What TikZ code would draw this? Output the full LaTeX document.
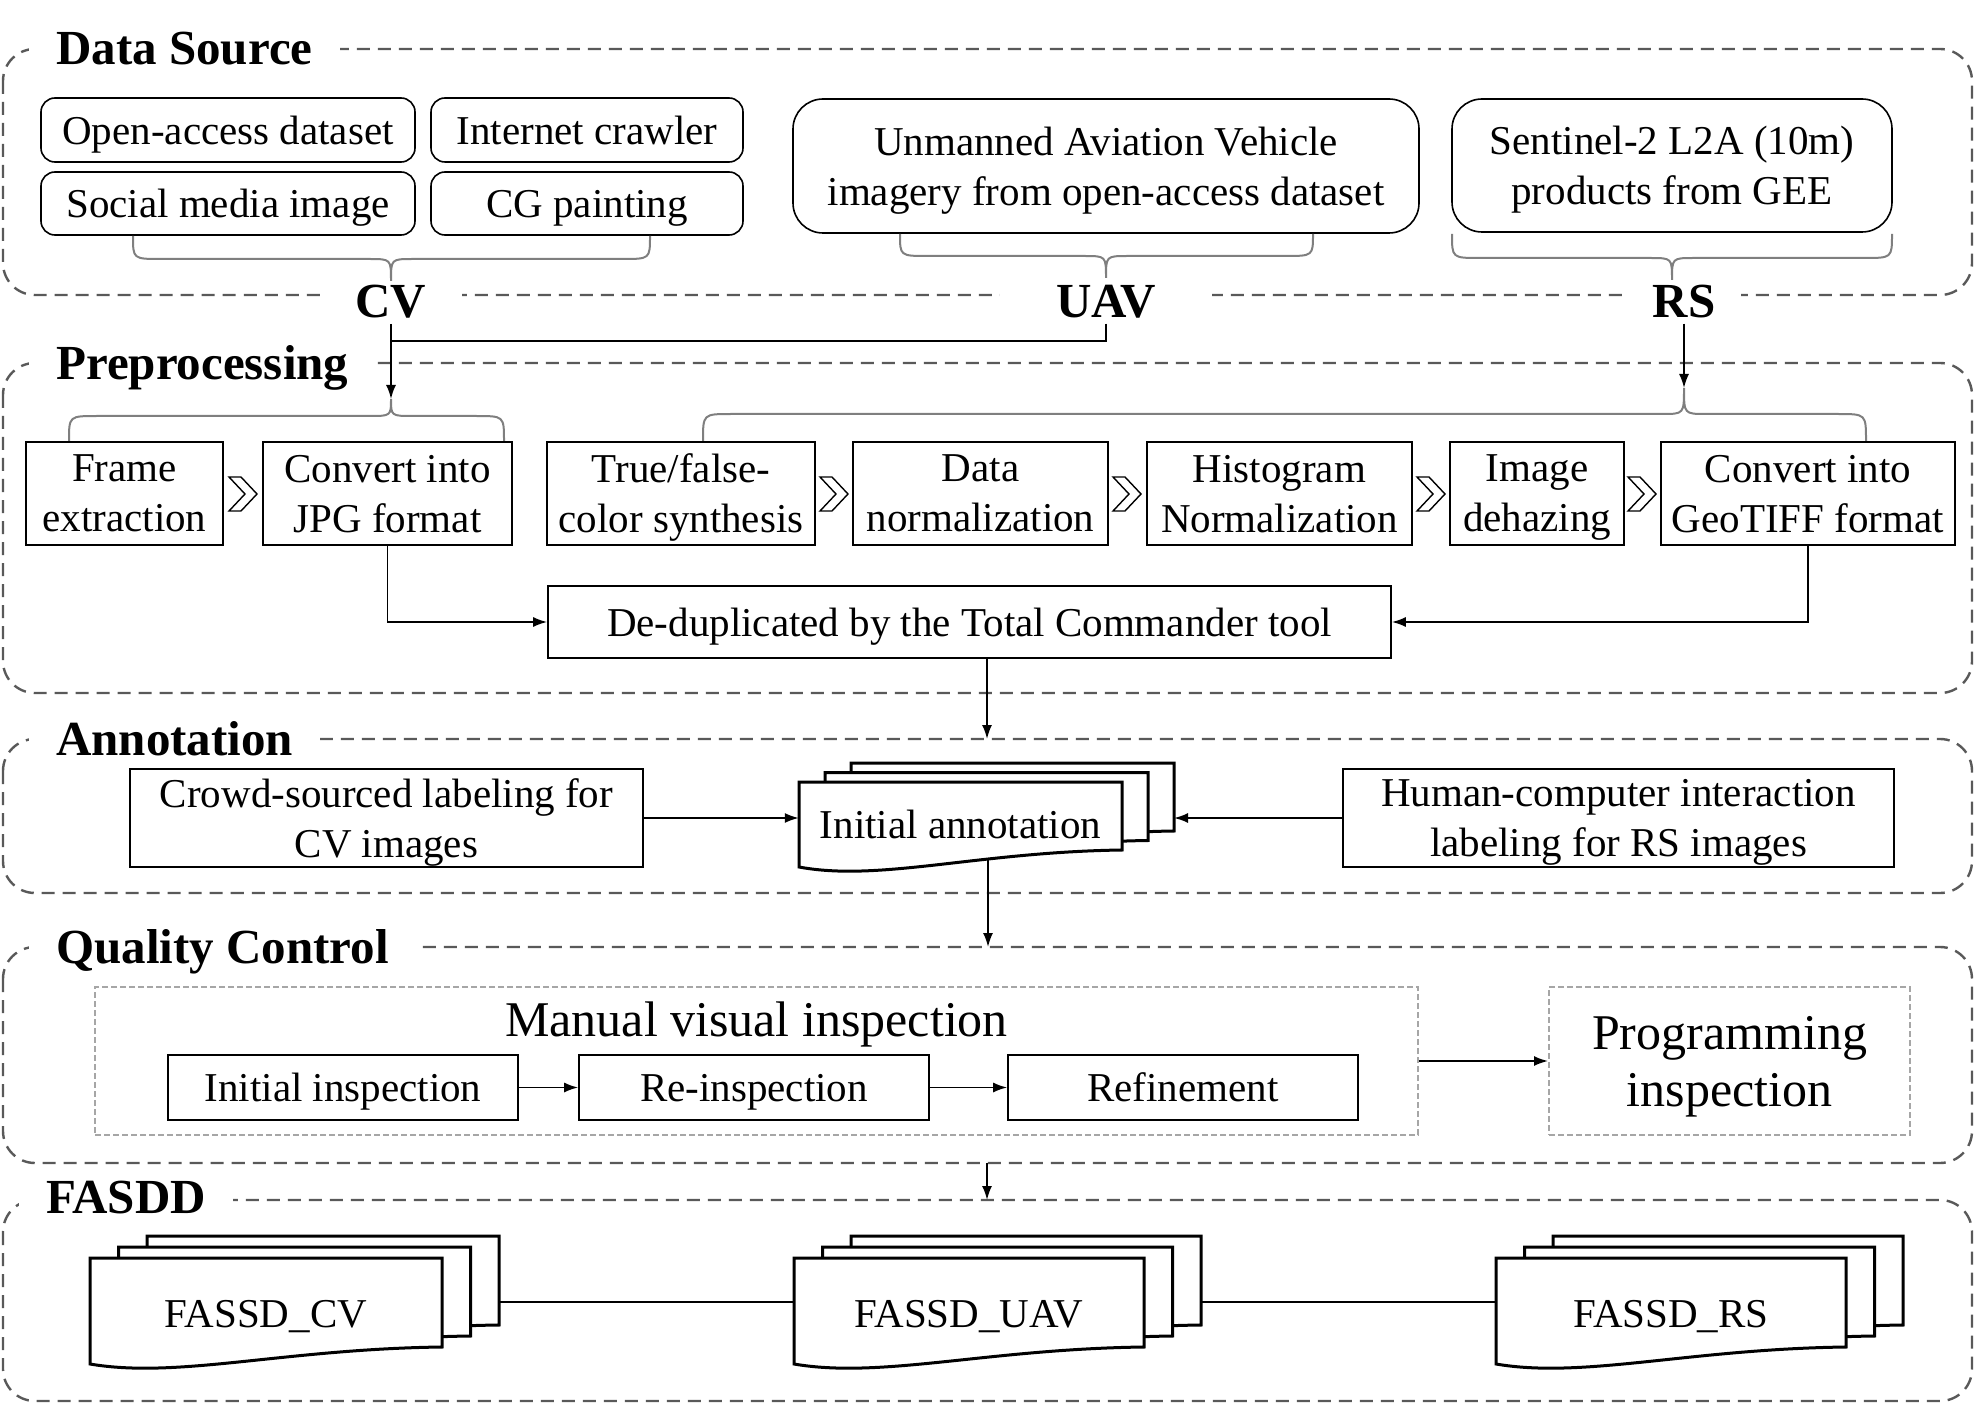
\documentclass[tikz,border=0pt]{standalone}
\usepackage{fontspec}
\setmainfont{Liberation Serif}
\usetikzlibrary{arrows.meta}
\definecolor{grpgray}{HTML}{595959}
\definecolor{dotgray}{HTML}{A6A6A6}
\definecolor{brgray}{HTML}{7F7F7F}
\newcommand\bodyfont{\fontsize{41}{50}\selectfont}
\newcommand\bigfont{\fontsize{50}{57}\selectfont}
\newcommand\titlefont{\fontsize{49}{55}\selectfont\bfseries}
\newcommand\nd[1]{\raisebox{0pt}[\height][0pt]{#1}}
% brace: x1 x2 xtip yends ymid ytip
\newcommand\mybrace[6]{%
  \draw[brc] (#1,#4) .. controls (#1,#5) and (#1,#5) .. (#1+28,#5) -- (#3-22,#5)
    .. controls (#3,#5) and (#3,#5) .. (#3,#6)
    .. controls (#3,#5) and (#3,#5) .. (#3+22,#5) -- (#2-28,#5)
    .. controls (#2,#5) and (#2,#5) .. (#2,#4);}
% chevron at centre
\newcommand\mychev[2]{%
  \draw[chev] (#1-14,#2-17) -- (#1-2,#2-17) -- (#1+14,#2) -- (#1-2,#2+17)
    -- (#1-14,#2+17) -- (#1+2,#2) -- cycle;}
% document shape: x0 y0 w h
\newcommand\docshp[4]{%
  \draw[doc] (#1,#2) -- (#1+#3,#2) -- (#1+#3,#2+#4)
    .. controls (#1+0.55*#3,#2+#4+2) and (#1+0.25*#3,#2+#4+32) .. (#1,#2+#4+17) -- cycle;}
% three stacked documents: x0 y0 w h dx dy
\newcommand\multidoc[6]{%
  \docshp{#1+2*#5}{#2-2*#6}{#3}{#4}
  \docshp{#1+#5}{#2-#6}{#3}{#4}
  \docshp{#1}{#2}{#3}{#4}}
\begin{document}
\begin{tikzpicture}[x=1pt,y=-1pt,
  grp/.style={draw=grpgray, line width=2.4pt, dash pattern=on 13pt off 8pt, rounded corners=32pt},
  ttl/.style={fill=white, inner xsep=27pt, inner ysep=4pt, font=\titlefont, anchor=base west},
  lbl/.style={fill=white, inner ysep=5pt, font=\titlefont},
  box/.style={draw=black, line width=1.6pt, inner sep=0pt, align=center, font=\bodyfont},
  rbox/.style={box, rounded corners=14pt},
  rrbox/.style={box, rounded corners=30pt},
  dotbox/.style={draw=dotgray, line width=2pt, dash pattern=on 6pt off 3pt, inner sep=0pt, align=center, font=\bigfont},
  conn/.style={line width=1.8pt, draw=black},
  arr/.style={conn, -{Latex[length=14pt,width=10pt]}},
  brc/.style={draw=brgray, line width=2pt},
  chev/.style={draw=black, line width=1.4pt, fill=white},
  doc/.style={draw=black, line width=3pt, fill=white},
  txt/.style={font=\bodyfont, inner sep=0pt}
]
\useasboundingbox (0,0) rectangle (1982,1404);

% ---------- group frames ----------
\draw[grp] (3,49) rectangle (1972,295);
\draw[grp] (3,363) rectangle (1972,693);
\draw[grp] (3,739) rectangle (1972,893);
\draw[grp] (3,947) rectangle (1972,1163);
\draw[grp] (3,1200) rectangle (1972,1401);

\node[ttl] (tds) at (29,65) {Data Source};
\node[ttl] (tpp) at (29,380) {Preprocessing};
\node[ttl] (tan) at (29,755) {Annotation};
\node[ttl] (tqc) at (29,963) {Quality Control};
\node[ttl] (tfa) at (19,1213) {FASDD};

% ---------- Data Source ----------
\node[rbox, minimum width=374pt, minimum height=64pt] (oad) at (228,130) {\nd{Open-access dataset}};
\node[rbox, minimum width=312pt, minimum height=64pt] (icr) at (587,130) {\nd{Internet crawler}};
\node[rbox, minimum width=374pt, minimum height=63pt] (smi) at (228,203.5) {\nd{Social media image}};
\node[rbox, minimum width=312pt, minimum height=63pt] (cgp) at (587,203.5) {\nd{CG painting}};
\node[rrbox, minimum width=626pt, minimum height=134pt] (uavb) at (1106,166) {Unmanned Aviation Vehicle\\\nd{imagery from open-access dataset}};
\node[rrbox, minimum width=440pt, minimum height=133pt] (rsb) at (1672,165.5) {Sentinel-2 L2A (10m)\\\nd{products from GEE}};

\node[lbl, inner xsep=36pt] (cvl) at (391,302) {CV};
\node[lbl, inner xsep=56pt] (uavl) at (1106,302) {UAV};
\node[lbl, inner xsep=26pt] (rsl) at (1684,302) {RS};

\mybrace{133}{650}{391}{236}{259}{281}
\mybrace{900}{1313}{1106}{234}{256}{278}
\mybrace{1452}{1892}{1672}{234}{258}{280}

% ---------- Preprocessing ----------
\coordinate (ppLtip) at (391,399);
\coordinate (ppRtip) at (1684,388);
\coordinate (jn) at (391,341);
\mybrace{69}{504}{391}{441}{416}{399}
\mybrace{703}{1866}{1684}{441}{414}{388}

\node[box, minimum width=197pt, minimum height=103pt] (frame) at (124.5,493.5) {Frame\\\nd{extraction}};
\node[box, minimum width=249pt, minimum height=103pt] (jpg) at (387.5,493.5) {Convert into\\\nd{JPG format}};
\node[box, minimum width=268pt, minimum height=103pt] (tfc) at (681,493.5) {True/false-\\\nd{color synthesis}};
\node[box, minimum width=255pt, minimum height=103pt] (dnm) at (980.5,493.5) {Data\\\nd{normalization}};
\node[box, minimum width=265pt, minimum height=103pt] (hnm) at (1279.5,493.5) {Histogram\\\nd{Normalization}};
\node[box, minimum width=174pt, minimum height=103pt] (idh) at (1537,493.5) {Image\\\nd{dehazing}};
\node[box, minimum width=294pt, minimum height=103pt] (geo) at (1808,493.5) {Convert into\\\nd{GeoTIFF format}};
\mychev{243}{494}
\mychev{834}{494}
\mychev{1127}{494}
\mychev{1431}{494}
\mychev{1642}{494}

\node[box, minimum width=843pt, minimum height=72pt] (dd) at (969.5,622) {\nd{De-duplicated by the Total Commander tool}};

\draw[arr] (cvl.south) -- (ppLtip);
\draw[conn] (uavl.south) |- (jn);
\draw[arr] (rsl.south) -- (ppRtip);
\draw[arr] (jpg.south) |- (dd.west);
\draw[arr] (geo.south) |- (dd.east);

% ---------- Annotation ----------
\coordinate (antop) at (987,739);
\draw[arr] (dd.south -| antop) -- (antop);

\node[box, minimum width=513pt, minimum height=98pt] (crowd) at (386.5,818) {Crowd-sourced labeling for\\\nd{CV images}};
\node[box, minimum width=551pt, minimum height=98pt] (human) at (1618.5,818) {Human-computer interaction\\\nd{labeling for RS images}};
\multidoc{799}{782}{323}{68}{26}{9.5}
\node[txt, minimum width=323pt, minimum height=68pt] (ia) at (960.5,824) {Initial annotation};
\coordinate (iab) at (1174,818);
\coordinate (iabot) at (988,858);
\draw[arr] (crowd.east) -- (crowd.east -| ia.west);
\draw[arr] (human.west) -- (iab);

% ---------- Quality Control ----------
\coordinate (qctop) at (988,947);
\draw[arr] (iabot) -- (qctop);

\node[dotbox, minimum width=1323pt, minimum height=148pt] (mvi) at (756.5,1061) {};
\node[font=\bigfont, inner sep=0pt, anchor=base] (mvt) at (756.5,1036) {Manual visual inspection};
\node[box, minimum width=350pt, minimum height=65pt] (ii) at (343,1087.5) {\nd{Initial inspection}};
\node[box, minimum width=350pt, minimum height=65pt] (ri) at (754,1087.5) {\nd{Re-inspection}};
\node[box, minimum width=350pt, minimum height=65pt] (rf) at (1183,1087.5) {\nd{Refinement}};
\node[dotbox, minimum width=361pt, minimum height=148pt] (pi) at (1729.5,1061) {Programming\\\nd{inspection}};
\draw[arr] (ii.east) -- (ri.west);
\draw[arr] (ri.east) -- (rf.west);
\draw[arr] (mvi.east) -- (pi.west);

% ---------- FASDD ----------
\coordinate (qcbot) at (987,1163);
\coordinate (fatop) at (987,1200);
\draw[arr] (qcbot) -- (fatop);

\multidoc{90}{1258}{352}{89}{28.5}{11}
\multidoc{794}{1258}{350}{89}{28.5}{11}
\multidoc{1496}{1258}{350}{89}{28.5}{11}
\node[txt, anchor=base] (fcv) at (266,1327) {FASSD\_CV};
\node[txt, anchor=base] (fuav) at (969,1327) {FASSD\_UAV};
\node[txt, anchor=base] (frs) at (1671,1327) {FASSD\_RS};
\coordinate (cvR) at (499,1302);
\coordinate (uavL) at (794,1302);
\coordinate (uavR) at (1201,1302);
\coordinate (rsL) at (1496,1302);
\draw[conn] (cvR) -- (uavL);
\draw[conn] (uavR) -- (rsL);
\end{tikzpicture}
\end{document}
